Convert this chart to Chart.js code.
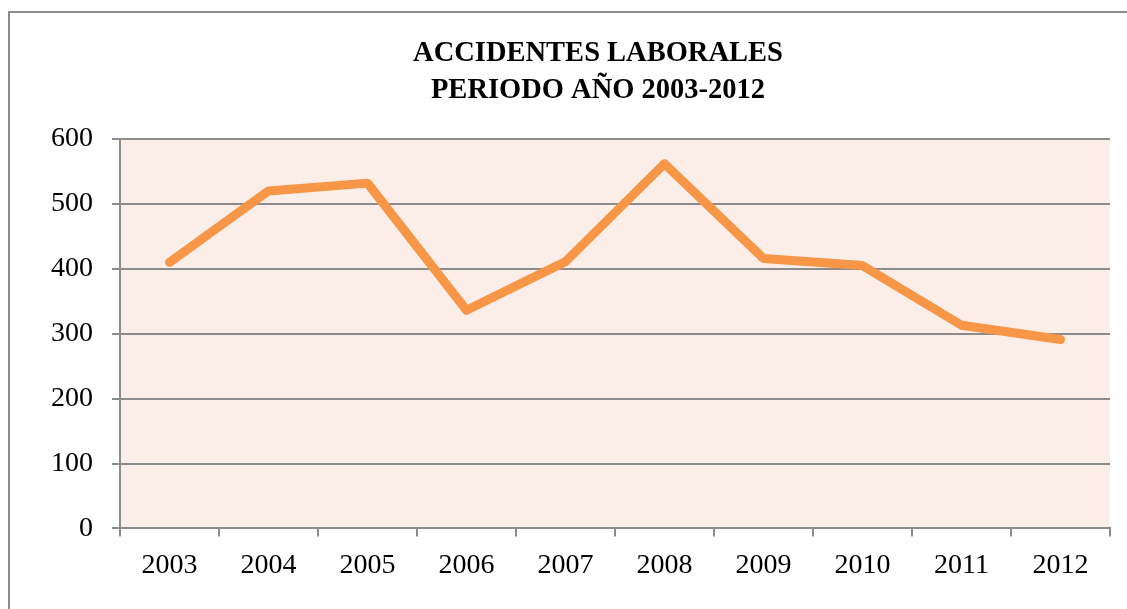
<!DOCTYPE html>
<html lang="es">
<head>
    <meta charset="UTF-8">
    <title>Accidentes laborales 2003-2012</title>
    <script src="https://cdn.jsdelivr.net/npm/chart.js"></script>
    <style>
        html, body {
            margin: 0;
            padding: 0;
            background: #ffffff;
            overflow: hidden;
        }
        .marco {
            position: absolute;
            left: 8px;
            top: 11px;
            width: 1176px;
            height: 620px;
            border-left: 2px solid #8c8c8c;
            border-top: 2px solid #8c8c8c;
        }
    </style>
</head>
<body>
    <div class="marco">
        <canvas id="accidentesChart" width="1176" height="596"></canvas>
    </div>

    <script>
        // Datos del gráfico
        const anios = ['2003', '2004', '2005', '2006', '2007', '2008', '2009', '2010', '2011', '2012'];
        const accidentes = [410, 520, 532, 336, 411, 562, 416, 405, 313, 291];
        const tituloLineas = ['ACCIDENTES LABORALES', 'PERIODO AÑO 2003-2012'];
        const ejeY = { min: 0, max: 600, paso: 100 };

        const gris = '#8c8c8c';
        const naranja = '#F79646';
        const fondoArea = '#FBEEE9';

        // Relleno rosado del área de trazado
        const fondoPlugin = {
            id: 'fondoArea',
            beforeDraw(chart) {
                const { ctx, chartArea } = chart;
                ctx.save();
                ctx.fillStyle = fondoArea;
                ctx.fillRect(chartArea.left, chartArea.top, chartArea.right - chartArea.left, chartArea.bottom - chartArea.top);
                ctx.restore();
            }
        };

        const ctx = document.getElementById('accidentesChart').getContext('2d');
        new Chart(ctx, {
            type: 'line',
            data: {
                labels: anios,
                datasets: [{
                    label: 'Accidentes',
                    data: accidentes,
                    borderColor: naranja,
                    borderWidth: 9,
                    borderCapStyle: 'round',
                    borderJoinStyle: 'round',
                    pointRadius: 0,
                    tension: 0,
                    fill: false
                }]
            },
            options: {
                responsive: false,
                animation: false,
                layout: {
                    padding: { left: 0, right: 0, top: 0, bottom: 15 }
                },
                plugins: {
                    legend: { display: false },
                    tooltip: { enabled: false },
                    title: {
                        display: true,
                        text: tituloLineas,
                        color: '#000000',
                        font: { family: '"Liberation Serif", serif', size: 28.5, weight: 'bold', lineHeight: '37px' },
                        padding: { top: 22, bottom: 30 }
                    }
                },
                scales: {
                    x: {
                        offset: true,
                        grid: {
                            offset: true,
                            drawOnChartArea: false,
                            drawTicks: true,
                            tickLength: 8,
                            color: gris,
                            lineWidth: 2
                        },
                        border: { color: gris, width: 2 },
                        ticks: {
                            color: '#000000',
                            padding: 12,
                            maxRotation: 0,
                            font: { family: '"Liberation Serif", serif', size: 28 }
                        }
                    },
                    y: {
                        min: ejeY.min,
                        max: ejeY.max,
                        afterFit(scale) { scale.width = 110; },
                        grid: {
                            drawTicks: true,
                            tickLength: 8,
                            color: gris,
                            lineWidth: 2
                        },
                        border: { color: gris, width: 2 },
                        ticks: {
                            stepSize: ejeY.paso,
                            color: '#000000',
                            padding: 19,
                            font: { family: '"Liberation Serif", serif', size: 28 }
                        }
                    },
                    // eje vacío a la derecha: deja el margen sin descentrar el título
                    margen: {
                        position: 'right',
                        display: true,
                        afterFit(scale) { scale.width = 76; },
                        grid: { display: false, drawTicks: false },
                        border: { display: false },
                        ticks: { display: false }
                    }
                }
            },
            plugins: [fondoPlugin]
        });
    </script>
</body>
</html>
